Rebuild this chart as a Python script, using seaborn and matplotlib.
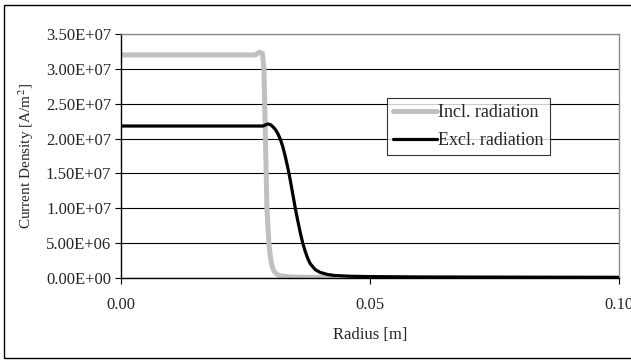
import matplotlib
matplotlib.use("Agg")
import matplotlib.pyplot as plt
from matplotlib.patches import Rectangle
import seaborn as sns
import pandas as pd

# Radial current density profiles
radius_incl = [0.000, 0.010, 0.020, 0.0270, 0.0278, 0.0284, 0.0287, 0.0290,
               0.0293, 0.0297, 0.0300, 0.0303, 0.0307, 0.0312, 0.0320, 0.0340,
               0.0370, 0.0400, 0.0425]
density_incl = [3.20e7, 3.20e7, 3.20e7, 3.20e7, 3.24e7, 3.22e7, 3.00e7, 2.00e7,
                1.00e7, 5.00e6, 3.00e6, 1.80e6, 1.00e6, 6.00e5, 3.00e5, 1.50e5,
                1.00e5, 1.00e5, 1.00e5]

radius_excl = [0.000, 0.010, 0.020, 0.0285, 0.0295, 0.0300, 0.0305, 0.0310,
               0.0315, 0.0320, 0.0325, 0.0330, 0.0335, 0.0340, 0.0345, 0.0350,
               0.0355, 0.0360, 0.0365, 0.0370, 0.0375, 0.0380, 0.0390, 0.0400,
               0.0415, 0.0430, 0.0460, 0.0500, 0.0600, 0.0800, 0.1000]
density_excl = [2.18e7, 2.18e7, 2.18e7, 2.18e7, 2.21e7, 2.20e7, 2.17e7, 2.13e7,
                2.07e7, 1.99e7, 1.88e7, 1.74e7, 1.58e7, 1.40e7, 1.20e7, 1.00e7,
                8.20e6, 6.50e6, 5.00e6, 3.80e6, 2.80e6, 2.05e6, 1.20e6, 8.00e5,
                5.00e5, 3.50e5, 2.50e5, 2.00e5, 1.50e5, 1.20e5, 1.00e5]

series_names = ["Incl. radiation", "Excl. radiation"]
series_colors = ["#c0c0c0", "#000000"]

x_ticks = [0.00, 0.05, 0.10]
y_ticks = [0, 5e6, 1e7, 1.5e7, 2e7, 2.5e7, 3e7, 3.5e7]

df = pd.concat([
    pd.DataFrame({"Radius": radius_incl, "Density": density_incl, "Case": series_names[0]}),
    pd.DataFrame({"Radius": radius_excl, "Density": density_excl, "Case": series_names[1]}),
])

sns.set_style("white")
plt.rcParams["font.family"] = ["Liberation Serif", "DejaVu Serif"]
plt.rcParams["mathtext.fontset"] = "stix"

fig = plt.figure(figsize=(6.31, 3.61), dpi=100)
ax = fig.add_axes([121 / 631, 83 / 361, 498 / 631, 244 / 361])

for name, color, lw in zip(series_names, series_colors, [3.6, 2.3]):
    sub = df[df["Case"] == name]
    sns.lineplot(data=sub, x="Radius", y="Density", ax=ax, color=color,
                 linewidth=lw, label=name, solid_joinstyle="round",
                 solid_capstyle="round")

ax.set_xlim(0, 0.10)
ax.set_ylim(0, 3.5e7)
ax.set_xticks(x_ticks)
ax.set_xticklabels([f"{v:.2f}" for v in x_ticks])
ax.set_yticks(y_ticks)
ax.set_yticklabels([f"{v:.2E}" for v in y_ticks])

ax.yaxis.grid(True, color="#000000", linewidth=0.8)
ax.set_axisbelow(True)

for side in ["left", "bottom"]:
    ax.spines[side].set_color("#000000")
    ax.spines[side].set_linewidth(1.0)
for side in ["top", "right"]:
    ax.spines[side].set_color("#8c8c8c")
    ax.spines[side].set_linewidth(1.0)

ax.tick_params(axis="both", direction="out", length=4, width=0.8,
               color="#000000", labelsize=12, pad=3)
ax.tick_params(axis="x", pad=10)
ax.tick_params(left=True, bottom=True)

ax.set_xlabel("Radius [m]", fontsize=12, labelpad=10)
ax.set_ylabel("Current Density [A/m$^2$]", fontsize=11, labelpad=7)

leg = ax.legend(loc="upper left", bbox_to_anchor=(0.534, 0.738), frameon=True,
                fancybox=False, shadow=False, fontsize=13, handlelength=2.4,
                handletextpad=0.1, borderpad=0.35, labelspacing=0.6,
                borderaxespad=0)
leg.get_frame().set_edgecolor("#000000")
leg.get_frame().set_linewidth(0.8)

# Chart frame
fig.patches.append(Rectangle((4 / 631, 3 / 361), 640 / 631, 353 / 361,
                             transform=fig.transFigure, fill=False,
                             edgecolor="#000000", linewidth=1.0))

fig.savefig("out.png", dpi=100)
